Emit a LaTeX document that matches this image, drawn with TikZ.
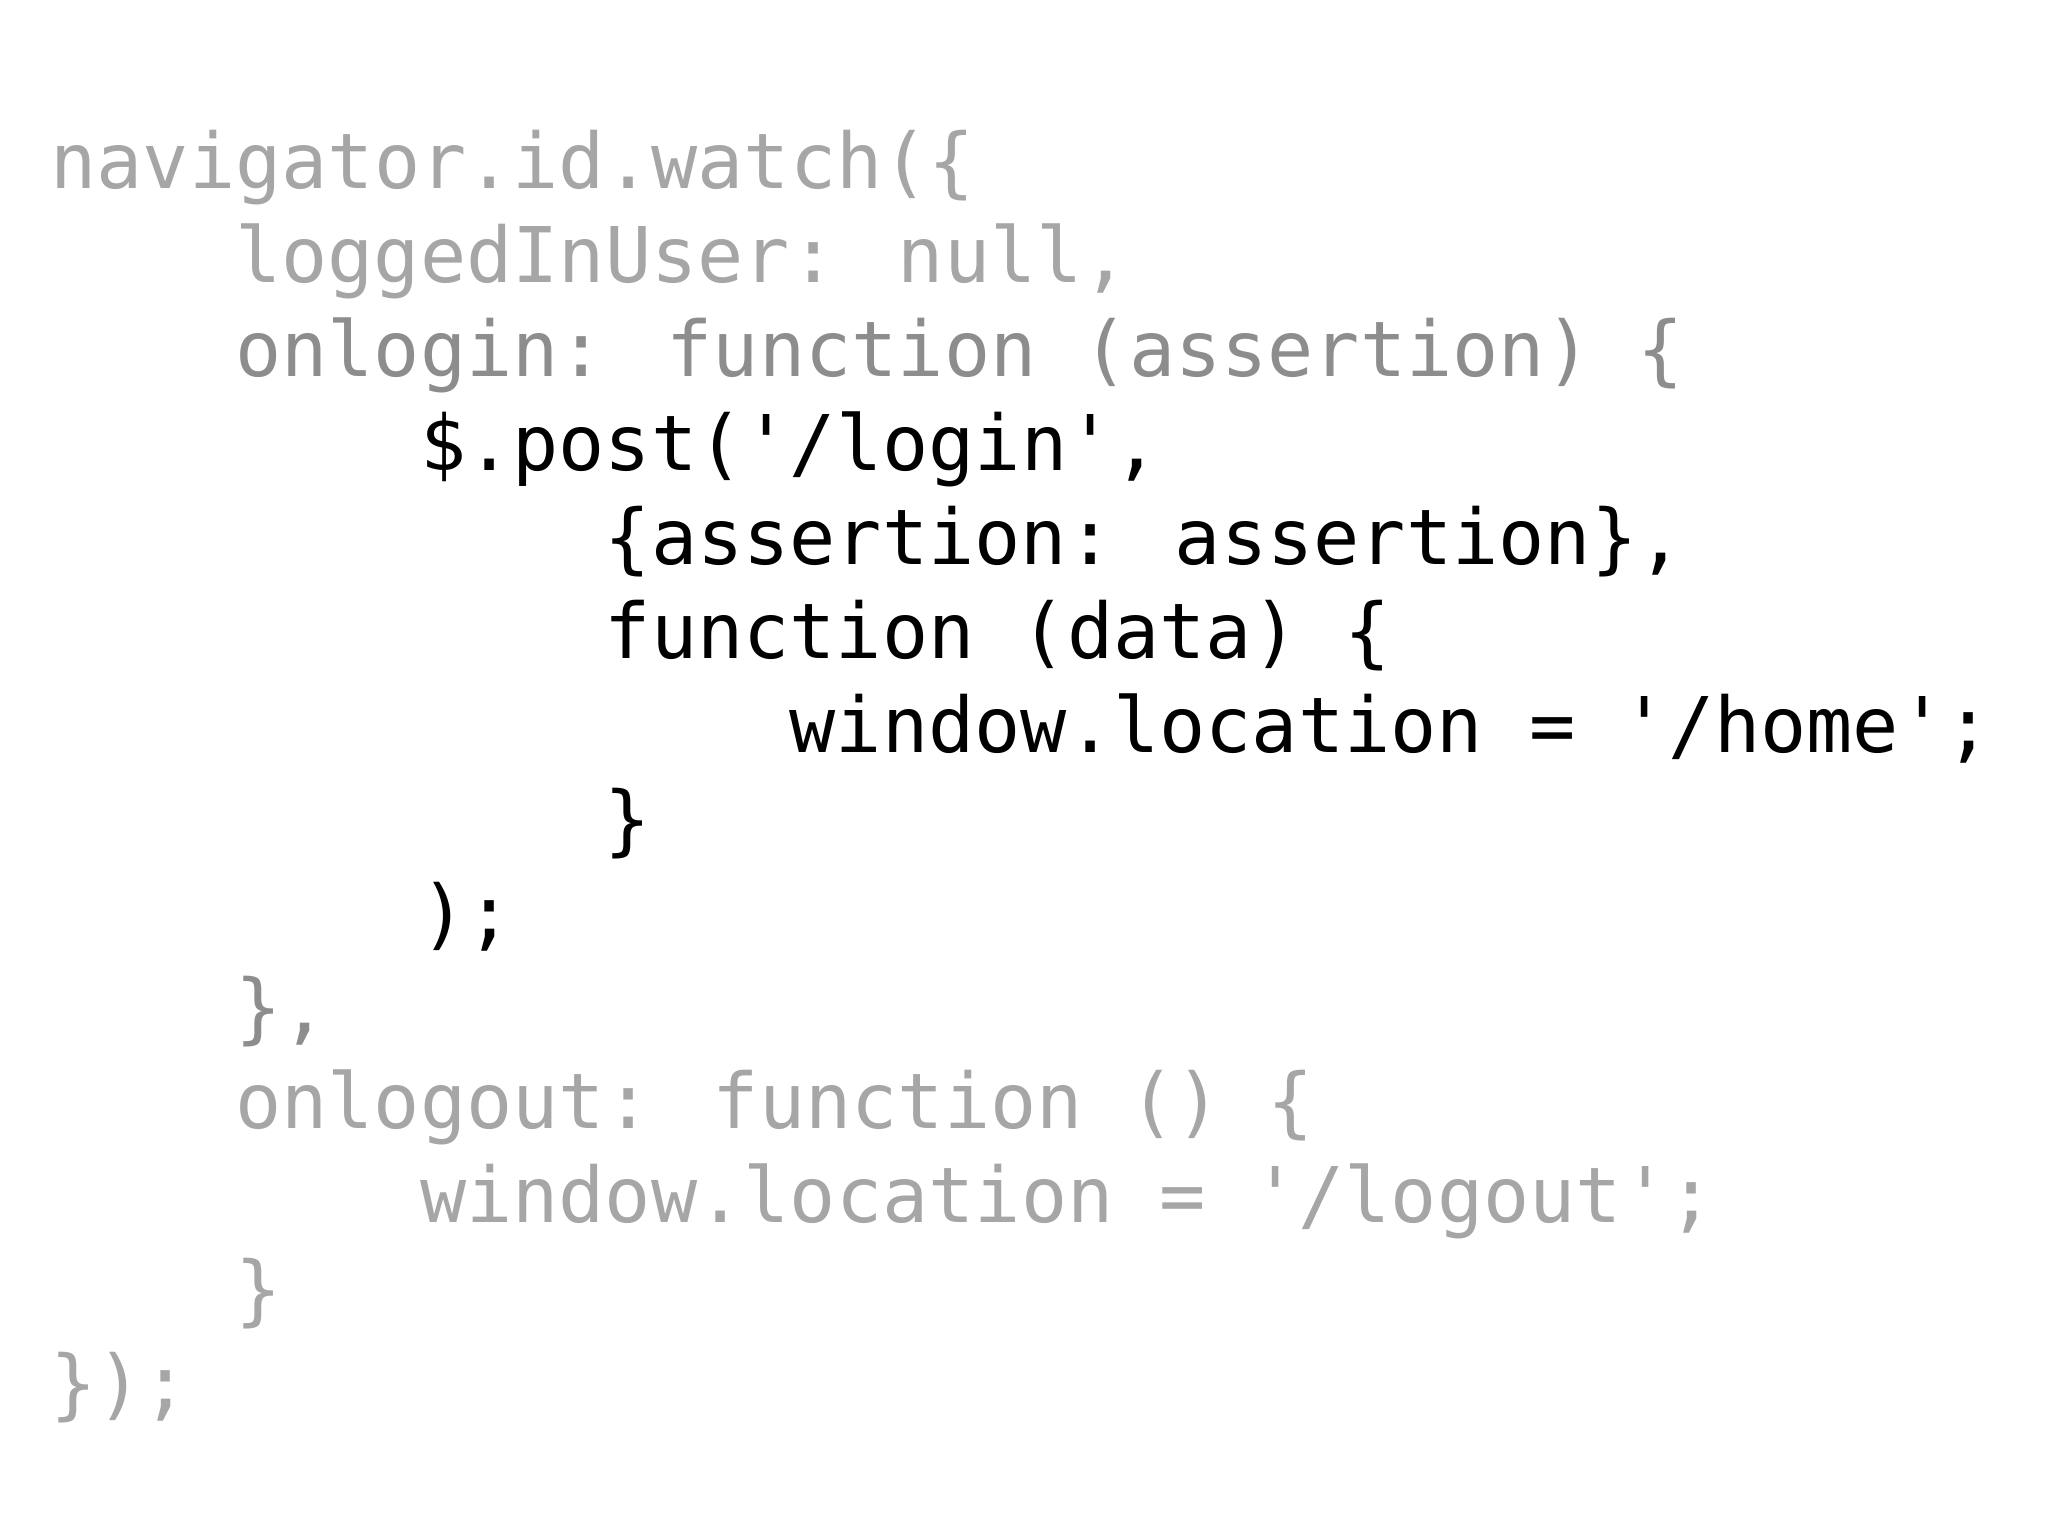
\documentclass[tikz,border=0pt]{standalone}
\usepackage{fontspec}
\newfontfamily\code{DejaVu Sans Mono}
\definecolor{lg}{HTML}{A6A6A6}
\tikzset{ln/.style={anchor=base west,inner sep=0pt,font=\code\fontsize{38.4}{40}\selectfont,text=lg},
 hi/.style={ln,text=black}}
\begin{document}
\begin{tikzpicture}[x=1pt,y=1pt]
\useasboundingbox (0,0) rectangle (1024,767.5);
\def\cw{23.1}
\def\L#1#2#3#4{\node[#1] (#2) at (25+#3*\cw, 673-47*#4) {#2x};}
\node[ln] (l0) at (25+0*\cw,673-47*0) {navigator.id.watch(\{};
\node[ln] (l1) at (25+4*\cw,673-47*1) {loggedInUser: null,};
\node[ln,text=lg!85!black] (l2) at (25+4*\cw,673-47*2) {onlogin: function (assertion) \{};
\node[hi] (l3) at (25+8*\cw,673-47*3) {\$.post('/login',};
\node[hi] (l4) at (25+12*\cw,673-47*4) {\{assertion: assertion\},};
\node[hi] (l5) at (25+12*\cw,673-47*5) {function (data) \{};
\node[hi] (l6) at (25+16*\cw,673-47*6) {window.location = '/home';};
\node[hi] (l7) at (25+12*\cw,673-47*7) {\}};
\node[hi] (l8) at (25+8*\cw,673-47*8) {);};
\node[ln,text=lg!85!black] (l9) at (25+4*\cw,673-47*9) {\},};
\node[ln] (l10) at (25+4*\cw,673-47*10) {onlogout: function () \{};
\node[ln] (l11) at (25+8*\cw,673-47*11) {window.location = '/logout';};
\node[ln] (l12) at (25+4*\cw,673-47*12) {\}};
\node[ln] (l13) at (25+0*\cw,673-47*13) {\});};
\end{tikzpicture}
\end{document}
